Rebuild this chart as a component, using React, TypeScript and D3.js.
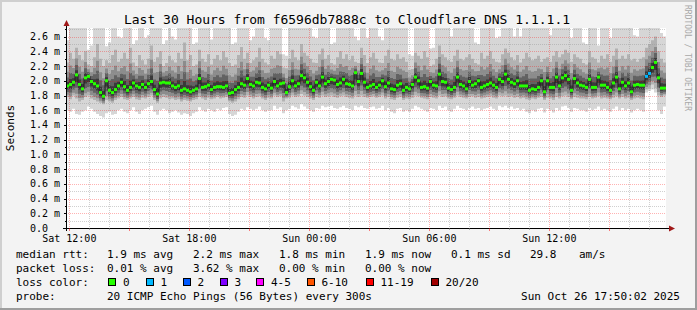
import React from "react";
import * as d3 from "d3";

// ---------- data ----------
const END = new Date(2025, 9, 26, 17, 50, 2);
const HOURS = 30;

// median rtt per step (ms)
const median = [
  1.93,1.95,1.98,2.08,1.95,1.89,2.04,2.06,1.99,1.96,
  1.93,1.84,1.79,2.0,1.87,1.84,1.88,1.93,1.98,1.92,
  1.87,1.91,1.97,1.93,1.91,1.95,1.91,1.96,1.99,1.88,
  1.82,1.97,1.98,1.97,1.97,1.93,1.91,1.93,1.87,1.89,
  1.87,1.85,1.87,1.89,2.03,1.91,1.92,1.94,1.88,1.91,
  1.92,1.92,1.91,1.93,1.83,1.84,1.88,1.91,1.96,1.94,
  2.03,1.95,1.93,1.98,1.97,1.91,1.89,1.94,1.90,1.99,
  1.93,1.96,1.97,1.84,1.92,2.0,1.93,1.96,2.07,2.04,
  1.98,1.92,1.87,1.98,1.93,2.05,1.96,1.99,2.02,2.01,
  1.95,1.97,2.02,1.96,1.95,1.93,2.11,1.99,2.1,1.98,
  1.91,1.93,1.95,1.91,1.94,2.0,1.92,1.97,1.89,1.88,
  1.94,1.96,1.87,1.91,1.89,1.95,2.05,2.0,1.91,1.92,
  1.90,1.99,1.94,1.93,2.09,1.99,1.98,1.90,1.88,1.91,
  2.05,1.95,1.93,1.89,1.99,1.94,1.96,2.0,1.91,1.93,
  1.95,1.97,1.94,1.91,2.02,1.99,2.09,2.02,1.98,1.96,
  2.0,1.93,1.93,1.93,1.87,1.89,1.88,1.91,2.0,1.85,
  2.0,1.91,1.91,2.05,1.93,2.04,2.07,2.02,1.87,2.03,
  1.97,1.94,1.93,1.91,2.02,1.91,1.91,2.05,1.94,1.94,
  1.91,1.87,1.97,2.05,1.89,1.98,1.93,1.97,1.85,1.94,
  1.95,1.94,1.94,2.06,2.10,2.18,2.25,2.04,1.90,1.90,
];

// smoke: highest ping
const smokeMax = [
  2.55,2.72,2.72,2.72,2.72,2.72,2.72,2.42,2.48,2.72,
  2.72,2.72,2.72,2.47,2.52,2.72,2.72,2.6,2.58,2.72,
  2.72,2.72,2.5,2.55,2.72,2.72,2.58,2.62,2.72,2.72,
  2.72,2.72,2.5,2.55,2.72,2.6,2.56,2.72,2.72,2.72,
  2.72,2.72,2.5,2.52,2.72,2.72,2.72,2.72,2.56,2.72,
  2.72,2.72,2.72,2.72,2.72,2.5,2.52,2.72,2.72,2.72,
  2.72,2.55,2.6,2.72,2.72,2.72,2.58,2.55,2.72,2.72,
  2.72,2.72,2.36,2.34,2.72,2.72,2.72,2.72,2.72,2.72,
  2.72,2.72,2.6,2.58,2.72,2.72,2.72,2.72,2.5,2.52,
  2.72,2.72,2.72,2.72,2.72,2.72,2.6,2.55,2.72,2.72,
  2.58,2.72,2.72,2.72,2.6,2.55,2.72,2.72,2.72,2.72,
  2.72,2.72,2.72,2.72,2.36,2.34,2.72,2.72,2.72,2.72,
  2.72,2.44,2.45,2.72,2.72,2.72,2.72,2.72,2.6,2.72,
  2.72,2.72,2.72,2.72,2.72,2.72,2.52,2.5,2.72,2.72,
  2.72,2.72,2.72,2.58,2.6,2.72,2.72,2.72,2.72,2.6,
  2.72,2.6,2.72,2.72,2.72,2.72,2.72,2.72,2.72,2.72,
  2.72,2.62,2.72,2.72,2.72,2.72,2.72,2.72,2.58,2.72,
  2.72,2.72,2.52,2.5,2.72,2.72,2.72,2.48,2.72,2.72,
  2.72,2.58,2.72,2.72,2.72,2.72,2.72,2.72,2.72,2.62,
  2.6,2.72,2.72,2.72,2.72,2.72,2.72,2.72,2.65,2.6,
];

// smoke: upper inner ping (~16th of 20)
const smokeUp = [
  2.25,2.38,2.3,2.45,2.35,2.28,2.4,2.22,2.2,2.32,
  2.5,2.3,2.2,2.28,2.24,2.35,2.42,2.26,2.3,2.38,
  2.3,2.45,2.25,2.2,2.35,2.28,2.22,2.3,2.48,2.26,
  2.32,2.4,2.2,2.24,2.34,2.28,2.25,2.38,2.3,2.52,
  2.28,2.35,2.2,2.22,2.42,2.3,2.26,2.36,2.22,2.3,
  2.35,2.28,2.4,2.32,2.24,2.2,2.22,2.35,2.46,2.3,
  2.38,2.24,2.28,2.32,2.45,2.3,2.25,2.22,2.34,2.3,
  2.4,2.36,2.18,2.17,2.3,2.42,2.32,2.28,2.5,2.38,
  2.34,2.3,2.25,2.24,2.36,2.44,2.3,2.35,2.24,2.22,
  2.32,2.4,2.3,2.36,2.28,2.34,2.26,2.24,2.45,2.35,
  2.24,2.32,2.38,2.3,2.25,2.24,2.34,2.42,2.3,2.28,
  2.36,2.3,2.32,2.26,2.15,2.16,2.38,2.34,2.3,2.4,
  2.32,2.2,2.22,2.3,2.48,2.36,2.32,2.28,2.26,2.34,
  2.42,2.3,2.28,2.32,2.36,2.3,2.24,2.22,2.38,2.3,
  2.34,2.4,2.3,2.26,2.25,2.36,2.44,2.38,2.32,2.28,
  2.35,2.25,2.3,2.38,2.32,2.28,2.3,2.34,2.26,2.3,
  2.32,2.26,2.34,2.4,2.32,2.36,2.42,2.38,2.26,2.36,
  2.32,2.3,2.24,2.22,2.4,2.32,2.3,2.25,2.34,2.3,
  2.36,2.26,2.34,2.44,2.3,2.34,2.3,2.36,2.28,2.3,
  2.26,2.3,2.32,2.45,2.5,2.55,2.6,2.4,2.3,2.25,
];

// smoke: lower inner ping (~5th of 20)
const smokeDown = [
  1.78,1.75,1.8,1.76,1.72,1.74,1.78,1.8,1.76,1.74,
  1.72,1.7,1.68,1.74,1.72,1.7,1.74,1.76,1.78,1.75,
  1.74,1.76,1.78,1.75,1.74,1.77,1.76,1.78,1.8,1.74,
  1.7,1.76,1.78,1.77,1.75,1.76,1.74,1.75,1.72,1.74,
  1.73,1.72,1.74,1.75,1.78,1.76,1.74,1.77,1.75,1.76,
  1.78,1.76,1.77,1.78,1.72,1.7,1.72,1.75,1.78,1.77,
  1.8,1.78,1.76,1.78,1.79,1.76,1.74,1.77,1.76,1.8,
  1.78,1.79,1.72,1.76,1.77,1.8,1.78,1.79,1.82,1.8,
  1.78,1.76,1.74,1.78,1.77,1.8,1.78,1.79,1.8,1.78,
  1.77,1.79,1.8,1.78,1.77,1.76,1.8,1.78,1.8,1.78,
  1.77,1.78,1.79,1.77,1.78,1.8,1.76,1.78,1.75,1.74,
  1.77,1.78,1.74,1.76,1.75,1.77,1.8,1.79,1.77,1.76,
  1.75,1.78,1.77,1.76,1.8,1.78,1.79,1.76,1.75,1.77,
  1.8,1.78,1.77,1.76,1.78,1.79,1.77,1.78,1.76,1.77,
  1.78,1.79,1.77,1.76,1.8,1.79,1.8,1.78,1.79,1.77,
  1.78,1.76,1.77,1.75,1.74,1.76,1.75,1.77,1.78,1.74,
  1.77,1.76,1.74,1.78,1.76,1.79,1.8,1.78,1.75,1.78,
  1.77,1.76,1.76,1.75,1.78,1.76,1.77,1.79,1.76,1.77,
  1.76,1.75,1.77,1.79,1.76,1.78,1.76,1.77,1.74,1.76,
  1.77,1.76,1.75,1.88,1.9,1.95,1.9,1.8,1.78,1.8,
];

// smoke: lowest ping
const smokeMin = [
  1.6,1.58,1.62,1.55,1.54,1.58,1.6,1.65,1.62,1.58,
  1.55,1.52,1.5,1.56,1.58,1.54,1.55,1.6,1.62,1.58,
  1.56,1.6,1.64,1.58,1.55,1.6,1.62,1.64,1.66,1.58,
  1.54,1.6,1.62,1.6,1.56,1.58,1.6,1.57,1.54,1.56,
  1.55,1.52,1.56,1.58,1.64,1.6,1.58,1.62,1.6,1.58,
  1.62,1.6,1.63,1.64,1.55,1.52,1.54,1.58,1.62,1.6,
  1.64,1.62,1.6,1.62,1.65,1.6,1.58,1.6,1.6,1.66,
  1.62,1.64,1.56,1.6,1.62,1.66,1.64,1.62,1.68,1.65,
  1.62,1.6,1.58,1.63,1.62,1.66,1.64,1.65,1.66,1.63,
  1.62,1.64,1.66,1.63,1.62,1.6,1.66,1.64,1.66,1.63,
  1.62,1.64,1.65,1.62,1.63,1.66,1.6,1.63,1.58,1.56,
  1.62,1.63,1.58,1.6,1.58,1.62,1.66,1.64,1.62,1.6,
  1.58,1.63,1.62,1.6,1.66,1.63,1.65,1.6,1.58,1.62,
  1.66,1.63,1.62,1.6,1.63,1.65,1.62,1.63,1.6,1.62,
  1.63,1.65,1.62,1.6,1.66,1.64,1.66,1.63,1.65,1.62,
  1.63,1.6,1.62,1.58,1.56,1.6,1.58,1.62,1.63,1.57,
  1.62,1.6,1.57,1.63,1.6,1.65,1.66,1.63,1.58,1.63,
  1.62,1.6,1.6,1.58,1.63,1.6,1.62,1.65,1.6,1.62,
  1.6,1.58,1.62,1.65,1.6,1.63,1.6,1.62,1.57,1.6,
  1.62,1.6,1.58,1.84,1.86,1.88,1.84,1.6,1.55,1.65,
];

// steps with lost pings
const lossSteps = [193, 194];
const lossCounts = [1, 1];

const yTickValues = [0, 0.2, 0.4, 0.6, 0.8, 1.0, 1.2, 1.4, 1.6, 1.8, 2.0, 2.2, 2.4, 2.6];
const yTickLabels = ["0.0", "0.2 m", "0.4 m", "0.6 m", "0.8 m", "1.0 m", "1.2 m", "1.4 m", "1.6 m", "1.8 m", "2.0 m", "2.2 m", "2.4 m", "2.6 m"];

const lossLevels = ["0", "1", "2", "3", "4-5", "6-10", "11-19", "20/20"];
const lossColors = ["#26ff00", "#00b8ff", "#0059ff", "#7e00ff", "#ff00ff", "#ff5500", "#ff0000", "#a10000"];

const legendRtt = ["median rtt:", "1.9 ms avg", "2.2 ms max", "1.8 ms min", "1.9 ms now", "0.1 ms sd", "29.8", "am/s"];
const legendLoss = ["packet loss:", "0.01 % avg", "3.62 % max", "0.00 % min", "0.00 % now"];
const probeText = ["probe:", "20 ICMP Echo Pings (56 Bytes) every 300s"];
const stampText = "Sun Oct 26 17:50:02 2025";
const titleText = "Last 30 Hours from f6596db7888c to Cloudflare DNS 1.1.1.1";

// ---------- layout ----------
const W = 697, H = 310;
const X0 = 66, PW = 600;
const YB = 228, YT = 28;
const YMAX = 2.717;
const FONT = "'DejaVu Sans Mono', 'Liberation Mono', monospace";
const legendCols = [16, 107, 193, 279, 365, 451, 530, 579];
const lossBoxX = [108, 145.5, 182.5, 219.5, 256, 306.5, 365.5, 430.5];

function lossColorFor(count: number) {
  if (count <= 0) return lossColors[0];
  if (count === 1) return lossColors[1];
  if (count === 2) return lossColors[2];
  if (count === 3) return lossColors[3];
  if (count <= 5) return lossColors[4];
  if (count <= 10) return lossColors[5];
  if (count <= 19) return lossColors[6];
  return lossColors[7];
}

export default function App() {
  const N = median.length;
  const start = new Date(END.getTime() - HOURS * 3600e3);
  const x = d3.scaleTime().domain([start, END]).range([X0, X0 + PW]);
  const y = d3.scaleLinear().domain([0, YMAX]).range([YB, YT]);
  const stepMs = (HOURS * 3600e3) / N;
  const tAt = (i: number) => new Date(start.getTime() + i * stepMs);

  const pts = d3.range(N + 1).map((k) => ({ k, i: Math.min(k, N - 1) }));

  type Band = [(i: number) => number, (i: number) => number, string];
  const bands: Band[] = [
    [(i) => smokeMin[i], (i) => smokeMax[i], "#d6d6d6"],
    [(i) => smokeDown[i], (i) => smokeUp[i], "#b2b2b2"],
    [(i) => median[i] - 0.8 * (median[i] - smokeDown[i]), (i) => median[i] + 0.6 * (smokeUp[i] - median[i]), "#8c8c8c"],
    [(i) => median[i] - 0.55 * (median[i] - smokeDown[i]), (i) => median[i] + 0.36 * (smokeUp[i] - median[i]), "#626262"],
    [(i) => median[i] - 0.3 * (median[i] - smokeDown[i]), (i) => median[i] + 0.17 * (smokeUp[i] - median[i]), "#3a3a3a"],
  ];

  const bandPaths = bands.map(([lo, hi, c]) => {
    const a = d3
      .area<{ k: number; i: number }>()
      .x((d) => x(tAt(d.k)))
      .y0((d) => y(lo(d.i)))
      .y1((d) => y(hi(d.i)))
      .curve(d3.curveStepAfter);
    return { d: a(pts) || "", c };
  });

  const medLine =
    d3
      .line<{ k: number; i: number }>()
      .x((d) => x(tAt(d.k)))
      .y((d) => y(median[d.i]))
      .curve(d3.curveStepAfter)(pts) || "";

  const lossOf = (i: number) => {
    const j = lossSteps.indexOf(i);
    return j >= 0 ? lossCounts[j] : 0;
  };

  const hourTicks = d3.timeHour.every(1)!.range(start, END);
  const minorY = d3.range(1, 28, 2).map((v) => v / 10);

  return (
    <svg
      width={W}
      height={H}
      style={{ position: "absolute", left: 0, top: 0, display: "block" }}
      fontFamily={FONT}
    >
      <rect x={0} y={0} width={W} height={H} fill="#f3f3f3" />
      <rect x={0} y={0} width={W} height={2} fill="#cfcfcf" />
      <rect x={0} y={0} width={2} height={H} fill="#cfcfcf" />
      <rect x={W - 2} y={0} width={2} height={H} fill="#9e9e9e" />
      <rect x={0} y={H - 2} width={W} height={2} fill="#9e9e9e" />

      <text x={347} y={24} textAnchor="middle" fontSize={13} fill="#000">
        {titleText}
      </text>
      <text
        transform="translate(685,5) rotate(90)"
        fontSize={8}
        fill="#a8a8a8"
      >
        RRDTOOL / TOBI OETIKER
      </text>

      <defs>
        <clipPath id="plot">
          <rect x={X0} y={YT} width={PW} height={YB - YT} />
        </clipPath>
      </defs>
      <rect x={X0} y={YT} width={PW} height={YB - YT} fill="#ffffff" />

      <g clipPath="url(#plot)">
        {bandPaths.map((b, k) => (
          <path key={k} d={b.d} fill={b.c} />
        ))}
      </g>

      {/* grid */}
      <g shapeRendering="crispEdges">
        {minorY.map((v) => (
          <line key={"my" + v} x1={X0} x2={X0 + PW} y1={Math.round(y(v)) + 0.5} y2={Math.round(y(v)) + 0.5}
            stroke="rgba(150,150,150,0.45)" strokeDasharray="1,1" />
        ))}
        {hourTicks.filter((t) => t.getHours() % 3 !== 0).map((t) => (
          <line key={"mx" + t.getTime()} y1={YT} y2={YB} x1={Math.round(x(t)) + 0.5} x2={Math.round(x(t)) + 0.5}
            stroke="rgba(150,150,150,0.45)" strokeDasharray="1,1" />
        ))}
        {yTickValues.filter((v) => v > 0).map((v) => (
          <line key={"My" + v} x1={X0} x2={X0 + PW} y1={Math.round(y(v)) + 0.5} y2={Math.round(y(v)) + 0.5}
            stroke="rgba(255,0,0,0.3)" strokeDasharray="1,1" />
        ))}
        {hourTicks.filter((t) => t.getHours() % 3 === 0).map((t) => (
          <line key={"Mx" + t.getTime()} y1={YT} y2={YB} x1={Math.round(x(t)) + 0.5} x2={Math.round(x(t)) + 0.5}
            stroke="rgba(255,0,0,0.3)" strokeDasharray="1,1" />
        ))}
      </g>

      {/* median */}
      <g clipPath="url(#plot)">
        <path d={medLine} fill="none" stroke="#1e1e1e" strokeWidth={1} />
        {median.map((v, i) => {
          const x0 = x(tAt(i));
          const x1 = x(tAt(i + 1));
          return (
            <rect key={i} x={x0} y={y(v) - 1.5} width={x1 - x0} height={3} fill={lossColorFor(lossOf(i))} />
          );
        })}
      </g>

      {/* axes */}
      <g shapeRendering="crispEdges">
        <line x1={X0 + 0.5} x2={X0 + 0.5} y1={YB + 3} y2={YT - 4} stroke="#000" />
        <line x1={X0 - 3} x2={X0 + PW + 5} y1={YB + 0.5} y2={YB + 0.5} stroke="#000" />
        {yTickValues.map((v) => (
          <line key={"yt" + v} x1={X0 - 2} x2={X0} y1={Math.round(y(v)) + 0.5} y2={Math.round(y(v)) + 0.5} stroke="#000" />
        ))}
        {minorY.map((v) => (
          <line key={"ytm" + v} x1={X0 - 1} x2={X0} y1={Math.round(y(v)) + 0.5} y2={Math.round(y(v)) + 0.5} stroke="#000" />
        ))}
        {hourTicks.map((t) => (
          <line key={"xt" + t.getTime()} x1={Math.round(x(t)) + 0.5} x2={Math.round(x(t)) + 0.5} y1={YB} y2={YB + (t.getHours() % 3 === 0 ? 3 : 2)}
            stroke={t.getHours() % 3 === 0 ? "rgba(255,0,0,0.5)" : "rgba(120,120,120,0.6)"} />
        ))}
      </g>
      <path d={`M${X0 - 2.5},${YT - 2} L${X0 + 3.5},${YT - 2} L${X0 + 0.5},${YT - 8} Z`} fill="#a01818" />
      <path d={`M${X0 + PW + 3},${YB - 2.5} L${X0 + PW + 3},${YB + 3.5} L${X0 + PW + 9},${YB + 0.5} Z`} fill="#a01818" />

      {yTickValues.map((v, k) => (
        <text key={"yl" + v} x={30} y={y(v) + 3.5} fontSize={10} fill="#000">
          {yTickLabels[k]}
        </text>
      ))}
      {hourTicks.filter((t) => t.getHours() % 6 === 0).map((t) => (
        <text key={"xl" + t.getTime()} x={x(t)} y={241.5} fontSize={10} textAnchor="middle" fill="#000">
          {d3.timeFormat("%a %H:%M")(t)}
        </text>
      ))}
      <text transform={`translate(14,${(YT + YB) / 2}) rotate(-90)`} fontSize={11} textAnchor="middle" fill="#000">
        Seconds
      </text>

      {/* legend */}
      {legendRtt.map((s, k) => (
        <text key={"r" + k} x={legendCols[k]} y={258} fontSize={11} fill="#000">{s}</text>
      ))}
      {legendLoss.map((s, k) => (
        <text key={"l" + k} x={legendCols[k]} y={272} fontSize={11} fill="#000">{s}</text>
      ))}
      <text x={16} y={286} fontSize={11} fill="#000">loss color:</text>
      {lossLevels.map((s, k) => (
        <g key={"lc" + k}>
          <rect x={lossBoxX[k] + 0.5} y={278.5} width={7} height={7} fill={lossColors[k]} stroke="#000" strokeWidth={1} shapeRendering="crispEdges" />
          <text x={lossBoxX[k] + 15} y={286} fontSize={11} fill="#000">{s}</text>
        </g>
      ))}
      <text x={legendCols[0]} y={300} fontSize={11} fill="#000">{probeText[0]}</text>
      <text x={legendCols[1]} y={300} fontSize={11} fill="#000">{probeText[1]}</text>
      <text x={680} y={300} fontSize={11} textAnchor="end" fill="#000">{stampText}</text>
    </svg>
  );
}
